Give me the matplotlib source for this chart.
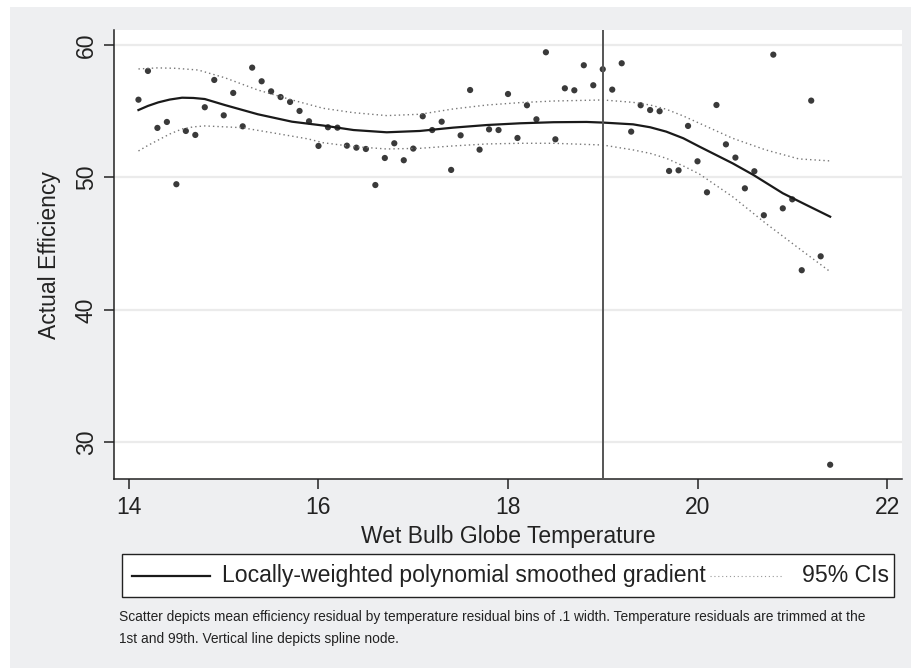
import numpy as np
import matplotlib.pyplot as plt
from matplotlib.patches import Rectangle
from matplotlib.lines import Line2D

plt.rcParams['font.family'] = ['Liberation Sans', 'DejaVu Sans']

# bins of temperature residual (.1 width) and mean efficiency in each bin
temp_bins = [14.1, 14.2, 14.3, 14.4, 14.5, 14.6, 14.7, 14.8, 14.9, 15.0,
             15.1, 15.2, 15.3, 15.4, 15.5, 15.6, 15.7, 15.8, 15.9, 16.0,
             16.1, 16.2, 16.3, 16.4, 16.5, 16.6, 16.7, 16.8, 16.9, 17.0,
             17.1, 17.2, 17.3, 17.4, 17.5, 17.6, 17.7, 17.8, 17.9, 18.0,
             18.1, 18.2, 18.3, 18.4, 18.5, 18.6, 18.7, 18.8, 18.9, 19.0,
             19.1, 19.2, 19.3, 19.4, 19.5, 19.6, 19.7, 19.8, 19.9, 20.0,
             20.1, 20.2, 20.3, 20.4, 20.5, 20.6, 20.7, 20.8, 20.9, 21.0,
             21.1, 21.2, 21.3, 21.4]
efficiency = [55.87, 58.04, 53.74, 54.19, 49.49, 53.51, 53.21, 55.30, 57.36, 54.69,
              56.38, 53.86, 58.29, 57.26, 56.50, 56.07, 55.70, 55.02, 54.24, 52.38,
              53.79, 53.76, 52.40, 52.25, 52.15, 49.43, 51.47, 52.58, 51.30, 52.18,
              54.62, 53.58, 54.21, 50.57, 53.18, 56.60, 52.10, 53.63, 53.58, 56.30,
              52.98, 55.45, 54.39, 59.45, 52.88, 56.73, 56.58, 58.47, 56.96, 58.17,
              56.63, 58.62, 53.46, 55.45, 55.09, 55.00, 50.49, 50.54, 53.89, 51.22,
              48.88, 55.47, 52.50, 51.50, 49.18, 50.47, 47.15, 59.27, 47.67, 48.35,
              43.00, 55.80, 44.05, 28.32]

# smoothed gradient and its 95% CIs
fit_x = [14.10, 14.20, 14.31, 14.43, 14.56, 14.68, 14.80, 15.01, 15.36, 15.72,
         16.05, 16.37, 16.72, 17.07, 17.42, 17.78, 18.13, 18.48, 18.83, 19.01,
         19.32, 19.50, 19.67, 19.85, 20.02, 20.37, 20.59, 20.90, 21.15, 21.40]
fit_y = [55.09, 55.40, 55.67, 55.88, 56.02, 56.00, 55.92, 55.47, 54.77, 54.21,
         53.92, 53.58, 53.41, 53.51, 53.76, 53.96, 54.09, 54.17, 54.19, 54.14,
         54.01, 53.79, 53.46, 52.96, 52.33, 51.07, 50.19, 48.81, 47.92, 47.04]

upper_x = [14.10, 14.30, 14.49, 14.73, 15.01, 15.36, 15.72, 16.05, 16.37, 16.72,
           17.07, 17.42, 17.78, 18.13, 18.48, 19.00, 19.32, 19.50, 19.67, 19.85,
           20.02, 20.37, 20.72, 21.07, 21.40]
upper_y = [58.19, 58.27, 58.24, 58.11, 57.53, 56.60, 55.85, 55.22, 54.89, 54.67,
           54.77, 55.17, 55.47, 55.65, 55.77, 55.85, 55.67, 55.47, 55.15, 54.64,
           54.09, 52.96, 52.08, 51.40, 51.25]

lower_x = [14.10, 14.20, 14.31, 14.43, 14.56, 14.68, 14.80, 15.19, 15.54, 15.89,
           16.05, 16.37, 16.72, 17.07, 17.42, 17.78, 18.13, 18.48, 19.00, 19.32,
           19.50, 19.67, 19.85, 20.02, 20.37, 20.72, 21.07, 21.40]
lower_y = [52.00, 52.42, 52.83, 53.28, 53.66, 53.82, 53.89, 53.76, 53.34, 52.91,
           52.62, 52.33, 52.15, 52.20, 52.38, 52.53, 52.58, 52.58, 52.45, 52.08,
           51.82, 51.45, 50.87, 50.26, 48.55, 46.54, 44.65, 42.89]

spline_node = 19
x_ticks = [14, 16, 18, 20, 22]
y_ticks = [30, 40, 50, 60]

W, H = 911, 668
bg = '#eeeff1'

fig = plt.figure(figsize=(W / 100, H / 100), dpi=100, facecolor='white')
fig.add_artist(Rectangle((10 / W, 0), 1, 1 - 7 / H, transform=fig.transFigure,
                         facecolor=bg, edgecolor='none', zorder=-10))

ax = fig.add_axes([114.3 / W, 1 - 479.3 / H, (901.7 - 114.3) / W, (479.3 - 30) / H])
ax.set_facecolor('white')
ax.set_xlim(13.845, 22.155)
ax.set_ylim(27.22, 61.13)

ax.set_yticks(y_ticks)
ax.set_xticks(x_ticks)
ax.grid(axis='y', color='#ebebeb', linewidth=1.6)
ax.set_axisbelow(True)
for s in ['top', 'right']:
    ax.spines[s].set_visible(False)
for s in ['left', 'bottom']:
    ax.spines[s].set_linewidth(1.1)
    ax.spines[s].set_color('#222222')
ax.tick_params(axis='both', length=7, width=1.1, color='#222222',
               labelsize=16.5, labelcolor='#222222', pad=5)
plt.setp(ax.get_yticklabels(), rotation=90, va='center')

ax.scatter(temp_bins, efficiency, s=20, color='#3a3a3a', edgecolors='none', zorder=3)
line_fit, = ax.plot(fit_x, fit_y, color='#1a1a1a', linewidth=1.6, zorder=4,
                    label='Locally-weighted polynomial smoothed gradient')
line_ci, = ax.plot(upper_x, upper_y, color='#777777', linewidth=1.0,
                   linestyle=(0, (1, 2.2)), zorder=4, label='95% CIs')
ax.plot(lower_x, lower_y, color='#777777', linewidth=1.0,
        linestyle=(0, (1, 2.2)), zorder=4)
ax.axvline(spline_node, color='#555555', linewidth=1.4, zorder=5)

ax.set_xlabel('Wet Bulb Globe Temperature', fontsize=16.5, color='#222222', labelpad=4)
ax.set_ylabel('Actual Efficiency', fontsize=16.5, color='#222222', labelpad=10)

# legend box
lx0, lx1, ly0, ly1 = 122.3, 894, 554.3, 597.3
fig.add_artist(Rectangle((lx0 / W, 1 - ly1 / H), (lx1 - lx0) / W, (ly1 - ly0) / H,
                         transform=fig.transFigure, facecolor='white',
                         edgecolor='#222222', linewidth=1.0))
ymid = 1 - 575.5 / H
fig.add_artist(Line2D([132 / W, 210 / W], [ymid, ymid], transform=fig.transFigure,
                      color=line_fit.get_color(), linewidth=1.6))
fig.text(222.5 / W, ymid, line_fit.get_label(), fontsize=16.6, va='center',
         color='#222222')
fig.add_artist(Line2D([710 / W, 782 / W], [ymid, ymid], transform=fig.transFigure,
                      color='#999999', linewidth=0.8, linestyle=(0, (1, 2.5))))
fig.text(889 / W, ymid, line_ci.get_label(), fontsize=16.6, va='center', ha='right',
         color='#222222')

caption = ('Scatter depicts mean efficiency residual by temperature residual bins of .1 width. '
           'Temperature residuals are trimmed at the\n'
           '1st and 99th. Vertical line depicts spline node.')
fig.text(119 / W, 1 - 610 / H, caption, fontsize=9.9, va='top', ha='left',
         color='#222222', linespacing=1.7)

fig.savefig('out.png', dpi=100, facecolor=fig.get_facecolor())
